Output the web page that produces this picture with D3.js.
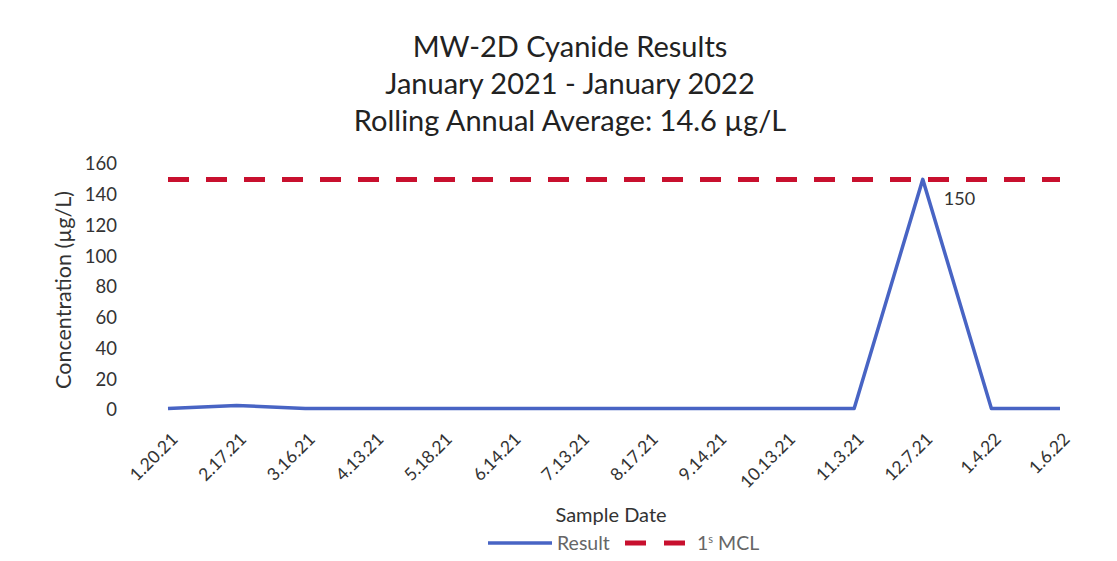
<!DOCTYPE html>
<html><head><meta charset="utf-8">
<script src="https://cdn.jsdelivr.net/npm/d3@7"></script>
<style>body{margin:0;background:#fff;}svg{display:block;font-family:Lato,"Open Sans",sans-serif;}</style>
</head><body>
<svg id="c" width="1117" height="561"></svg>
<script>
const categories = ["1.20.21","2.17.21","3.16.21","4.13.21","5.18.21","6.14.21","7.13.21","8.17.21","9.14.21","10.13.21","11.3.21","12.7.21","1.4.22","1.6.22"];
const resultValues = [1,3,1,1,1,1,1,1,1,1,1,150,1,1];
const mclValues = [150,150,150,150,150,150,150,150,150,150,150,150,150,150];
const yTicks = [0,20,40,60,80,100,120,140,160];
const titleLines = ["MW-2D Cyanide Results","January 2021 - January 2022","Rolling Annual Average: 14.6 µg/L"];

const svg = d3.select("#c");
const x = d3.scalePoint().domain(categories).range([168,1060]);
const y = d3.scaleLinear().domain([0,160]).range([410,164]);
const FF = "Lato,'Open Sans',sans-serif";

// title
svg.selectAll("text.title").data(titleLines).join("text").attr("class","title")
  .attr("x",570).attr("y",(d,i)=>57+i*37).attr("text-anchor","middle")
  .attr("font-size",29).attr("fill","#222").text(d=>d);

// y axis
const ya = svg.append("g").attr("transform","translate(117,0)")
  .call(d3.axisLeft(y).tickValues(yTicks).tickSize(0).tickPadding(0));
ya.select(".domain").remove();
ya.selectAll("text").attr("font-size",18.5).attr("fill","#333").attr("font-family",FF);

// x axis
const xa = svg.append("g").attr("transform","translate(0,410)")
  .call(d3.axisBottom(x).tickSize(0).tickPadding(0));
xa.select(".domain").remove();
xa.selectAll("text").attr("font-size",17.5).attr("fill","#333").attr("font-family",FF)
  .attr("text-anchor","end").attr("dy","0.35em")
  .attr("transform","translate(6,26) rotate(-45)");

// axis titles
svg.append("text").attr("transform","translate(71,290) rotate(-90)").attr("text-anchor","middle")
  .attr("font-size",21.5).attr("fill","#333").text("Concentration (µg/L)");
svg.append("text").attr("x",611).attr("y",522).attr("text-anchor","middle")
  .attr("font-size",20).attr("fill","#333").text("Sample Date");

// MCL dashed
const line = d3.line().x((d,i)=>x(categories[i])).y(d=>y(d));
svg.append("path").datum(mclValues).attr("d",line).attr("fill","none")
  .attr("stroke","#C8102E").attr("stroke-width",5).attr("stroke-dasharray","21,17");
// result
svg.append("path").datum(resultValues).attr("d",line).attr("fill","none")
  .attr("stroke","#4864C4").attr("stroke-width",3.5).attr("stroke-linejoin","round");

// data label
const peakIdx = resultValues.indexOf(d3.max(resultValues));
svg.append("text").attr("x",x(categories[peakIdx])+21).attr("y",y(resultValues[peakIdx])+26)
  .attr("font-size",18).attr("fill","#333").text(resultValues[peakIdx]);

// legend
const lg = svg.append("g");
lg.append("line").attr("x1",488).attr("x2",552).attr("y1",543).attr("y2",543).attr("stroke","#4864C4").attr("stroke-width",3.5);
lg.append("text").attr("x",557).attr("y",550).attr("font-size",19.5).attr("fill","#666").text("Result");
lg.append("line").attr("x1",625).attr("x2",685).attr("y1",543).attr("y2",543).attr("stroke","#C8102E").attr("stroke-width",5).attr("stroke-dasharray","21,18");
const t = lg.append("text").attr("x",697).attr("y",550).attr("font-size",19.5).attr("fill","#666");
t.append("tspan").text("1");
t.append("tspan").attr("font-size",11).attr("dy",-7).text("s");
t.append("tspan").attr("dy",7).text(" MCL");
</script>
</body></html>
